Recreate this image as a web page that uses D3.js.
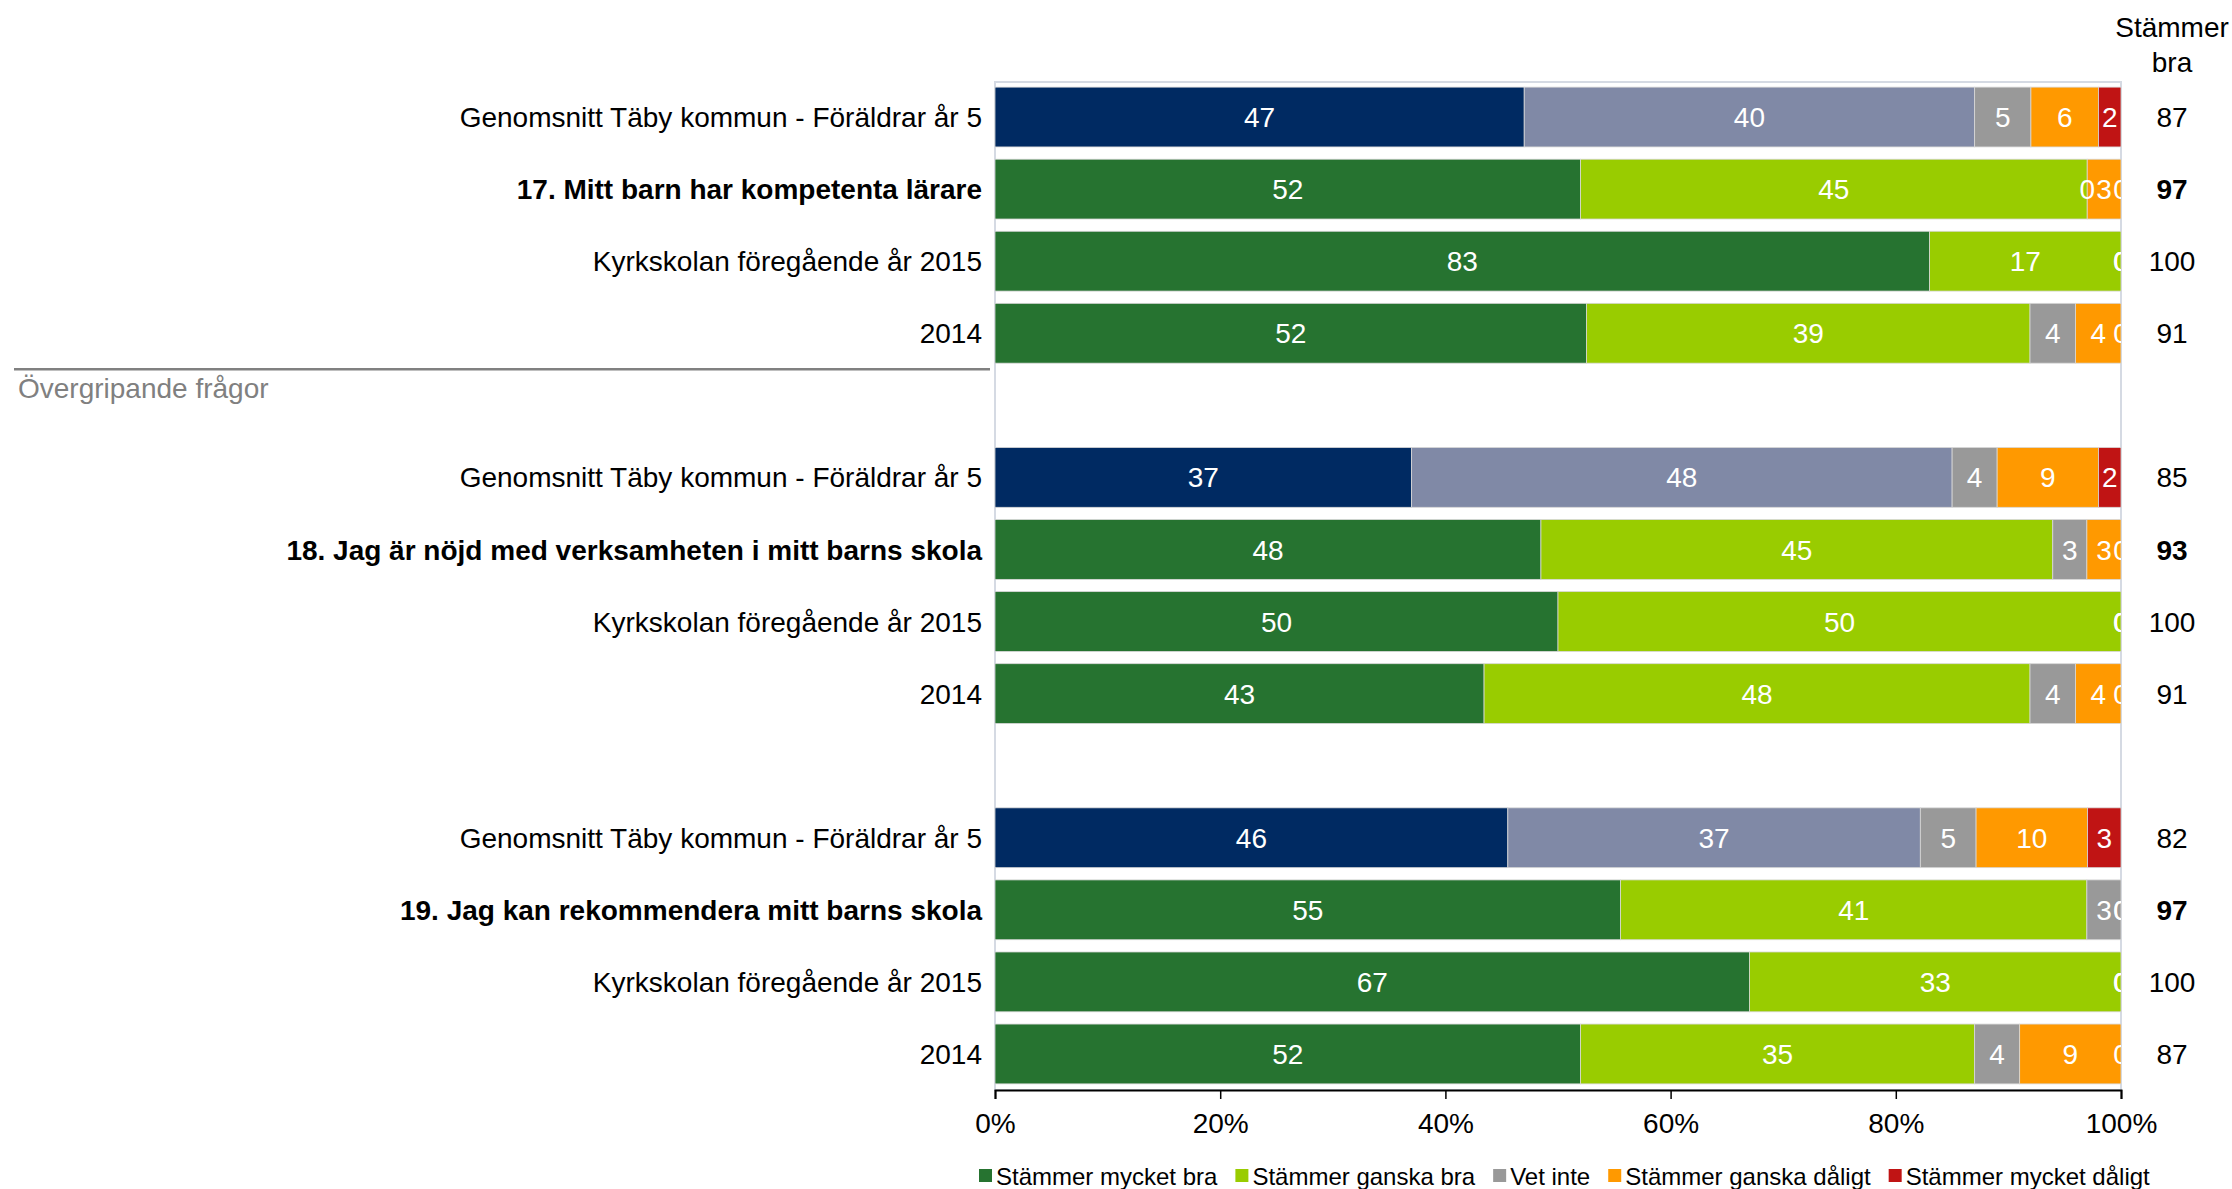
<!DOCTYPE html>
<html>
<head>
<meta charset="utf-8">
<script src="https://cdn.jsdelivr.net/npm/d3@7"></script>
<style>
  body { margin: 0; background: #fff; }
  svg text { font-family: "Liberation Sans", Arial, sans-serif; }
</style>
</head>
<body>
<div id="chart"></div>
<script>
const width = 2232,
  height = 1189,
  margin = { top: 81, bottom: 99, left: 995, right: 111 },
  fontSize = 28;

// rows, top to bottom (three groups of four)
const rowLabels = [
  "Genomsnitt Täby kommun - Föräldrar år 5",
  "17. Mitt barn har kompetenta lärare",
  "Kyrkskolan föregående år 2015",
  "2014",
  "Genomsnitt Täby kommun - Föräldrar år 5",
  "18. Jag är nöjd med verksamheten i mitt barns skola",
  "Kyrkskolan föregående år 2015",
  "2014",
  "Genomsnitt Täby kommun - Föräldrar år 5",
  "19. Jag kan rekommendera mitt barns skola",
  "Kyrkskolan föregående år 2015",
  "2014"
];
const rowKind = ["avg", "question", "prev", "prev", "avg", "question", "prev", "prev", "avg", "question", "prev", "prev"];

const seriesNames = ["Stämmer mycket bra", "Stämmer ganska bra", "Vet inte", "Stämmer ganska dåligt", "Stämmer mycket dåligt"];
const mycketBra    = [47, 52, 83, 52, 37, 48, 50, 43, 46, 55, 67, 52];
const ganskaBra    = [40, 45, 17, 39, 48, 45, 50, 48, 37, 41, 33, 35];
const vetInte      = [5, 0, 0, 4, 4, 3, 0, 4, 5, 3, 0, 4];
const ganskaDaligt = [6, 3, 0, 4, 9, 3, 0, 4, 10, 0, 0, 9];
const mycketDaligt = [2, 0, 0, 0, 2, 0, 0, 0, 3, 0, 0, 0];
const stammerBra   = [87, 97, 100, 91, 85, 93, 100, 91, 82, 97, 100, 87];

const xTicks = [0, 0.2, 0.4, 0.6, 0.8, 1];
const sectionTitle = "Övergripande frågor";

const colorsMain = ["#267330", "#99CC00", "#999999", "#FF9900", "#C01414"];
const colorsAvg = ["#002A62", "#8089A6", "#999999", "#FF9900", "#C01414"];

const table = rowLabels.map((label, i) => ({
  label,
  kind: rowKind[i],
  slot: i + Math.floor(i / 4),
  [seriesNames[0]]: mycketBra[i],
  [seriesNames[1]]: ganskaBra[i],
  [seriesNames[2]]: vetInte[i],
  [seriesNames[3]]: ganskaDaligt[i],
  [seriesNames[4]]: mycketDaligt[i],
  good: stammerBra[i]
}));

const stacked = d3.stack().keys(seriesNames).offset(d3.stackOffsetExpand)(table);

const svg = d3.select("#chart").append("svg")
  .attr("width", width)
  .attr("height", height);

const xScale = d3.scaleLinear()
  .domain([0, 1])
  .range([margin.left, width - margin.right]);

const yScale = d3.scaleBand()
  .domain(d3.range(14))
  .range([margin.top, height - margin.bottom])
  .paddingInner(0.17)
  .paddingOuter(0.085);

const gap = (yScale.step() - yScale.bandwidth()) / 2;

// plot area frame
svg.append("rect")
  .attr("x", xScale(0))
  .attr("y", margin.top + 1)
  .attr("width", xScale(1) - xScale(0))
  .attr("height", height - margin.bottom - margin.top - 1)
  .attr("fill", "none")
  .attr("stroke", "#D5DAE3")
  .attr("stroke-width", 2);

svg.append("clipPath").attr("id", "plotclip")
  .append("rect")
  .attr("x", xScale(0))
  .attr("y", 0)
  .attr("width", xScale(1) - xScale(0))
  .attr("height", height);

// bars
const layer = svg.append("g").selectAll("g")
  .data(stacked)
  .join("g");

layer.selectAll("rect")
  .data((s, si) => s.map(d => ({ d, si })))
  .join("rect")
  .attr("x", p => xScale(p.d[0]))
  .attr("y", p => yScale(p.d.data.slot))
  .attr("width", p => xScale(p.d[1]) - xScale(p.d[0]))
  .attr("height", yScale.bandwidth())
  .attr("fill", p => (p.d.data.kind === "avg" ? colorsAvg : colorsMain)[p.si])
  .attr("stroke", p => p.d[1] > p.d[0] ? "#D8D8D8" : "none")
  .attr("stroke-width", 0.8);

// value labels
const labelsG = svg.append("g").attr("clip-path", "url(#plotclip)");
stacked.forEach((s, si) => {
  labelsG.selectAll(null)
    .data(s)
    .join("text")
    .attr("x", d => xScale((d[0] + d[1]) / 2))
    .attr("y", d => yScale(d.data.slot) + yScale.bandwidth() / 2)
    .attr("dy", "0.36em")
    .attr("text-anchor", "middle")
    .attr("fill", "#fff")
    .style("font-size", fontSize + "px")
    .text(d => d.data[seriesNames[si]]);
});

// category labels
svg.append("g").selectAll("text")
  .data(table)
  .join("text")
  .attr("x", margin.left - 13)
  .attr("y", d => yScale(d.slot) + yScale.bandwidth() / 2)
  .attr("dy", "0.36em")
  .attr("text-anchor", "end")
  .attr("fill", "#000")
  .style("font-size", fontSize + "px")
  .style("font-weight", d => d.kind === "question" ? "bold" : "normal")
  .text(d => d.label);

// "Stämmer bra" column
const goodX = 2172;
svg.append("text")
  .attr("x", goodX).attr("y", 37)
  .attr("text-anchor", "middle")
  .style("font-size", fontSize + "px")
  .text("Stämmer");
svg.append("text")
  .attr("x", goodX).attr("y", 72)
  .attr("text-anchor", "middle")
  .style("font-size", fontSize + "px")
  .text("bra");

svg.append("g").selectAll("text")
  .data(table)
  .join("text")
  .attr("x", goodX)
  .attr("y", d => yScale(d.slot) + yScale.bandwidth() / 2)
  .attr("dy", "0.36em")
  .attr("text-anchor", "middle")
  .style("font-size", fontSize + "px")
  .style("font-weight", d => d.kind === "question" ? "bold" : "normal")
  .text(d => d.good);

// section divider
const lineY = yScale(4) - gap;
svg.append("line")
  .attr("x1", 14).attr("x2", margin.left - 5)
  .attr("y1", lineY).attr("y2", lineY)
  .attr("stroke", "#808080")
  .attr("stroke-width", 2.5);
svg.append("text")
  .attr("x", 18)
  .attr("y", lineY + 29)
  .attr("fill", "#808080")
  .style("font-size", fontSize + "px")
  .text(sectionTitle);

// x axis
const xAxis = d3.axisBottom(xScale)
  .tickValues(xTicks)
  .tickFormat(d3.format(".0%"))
  .tickSize(9)
  .tickPadding(14);

const axisG = svg.append("g")
  .attr("class", "axis x-axis")
  .attr("transform", `translate(0,${height - margin.bottom})`)
  .call(xAxis);
axisG.select(".domain").attr("stroke", "#000").attr("stroke-width", 2);
axisG.selectAll(".tick line").attr("stroke", "#000").attr("stroke-width", 1.5);
axisG.selectAll(".tick text")
  .attr("fill", "#000")
  .style("font-size", fontSize + "px")
  .style("font-family", "'Liberation Sans', Arial, sans-serif");

// legend
const legend = svg.append("g").attr("transform", "translate(979,1176)");
let lx = 0;
seriesNames.forEach((name, i) => {
  const item = legend.append("g").attr("transform", `translate(${lx},0)`);
  item.append("rect")
    .attr("x", 0).attr("y", -7)
    .attr("width", 13).attr("height", 13)
    .attr("fill", colorsMain[i]);
  const t = item.append("text")
    .attr("x", 17)
    .attr("dy", "0.36em")
    .style("font-size", "24px")
    .text(name);
  lx += 17 + t.node().getComputedTextLength() + 18;
});
</script>
</body>
</html>
